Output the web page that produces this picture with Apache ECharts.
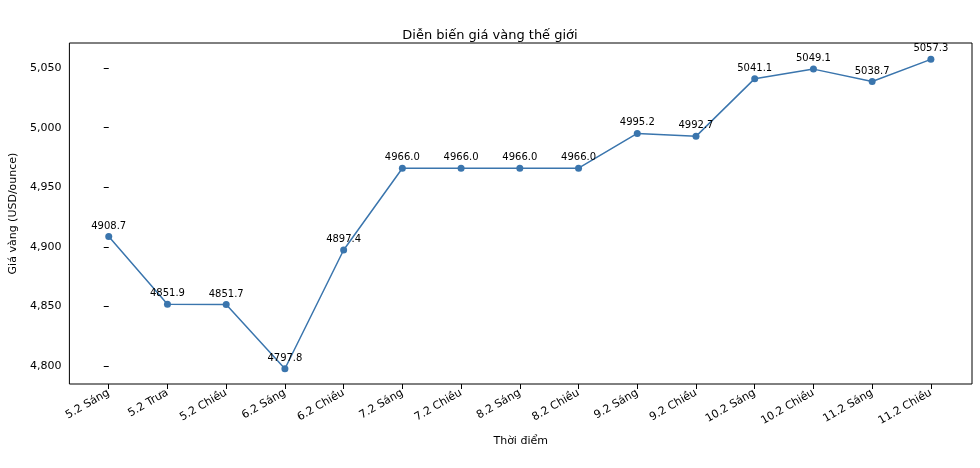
<!DOCTYPE html>
<html><head><meta charset="utf-8">
<script src="https://cdn.jsdelivr.net/npm/echarts@6/dist/echarts.min.js"></script>
<style>body{margin:0;background:#fff}#c{width:980px;height:468px}</style>
</head><body><div id="c"></div>
<script>
var times = ['5.2 Sáng','5.2 Trưa','5.2 Chiều','6.2 Sáng','6.2 Chiều','7.2 Sáng','7.2 Chiều','8.2 Sáng','8.2 Chiều','9.2 Sáng','9.2 Chiều','10.2 Sáng','10.2 Chiều','11.2 Sáng','11.2 Chiều'];
var prices = [4908.7,4851.9,4851.7,4797.8,4897.4,4966.0,4966.0,4966.0,4966.0,4995.2,4992.7,5041.1,5049.1,5038.7,5057.3];
var yTicks = [4800,4850,4900,4950,5000,5050];

var chart = echarts.init(document.getElementById('c'));
var font = 'DejaVu Sans';
chart.setOption({
    animation: false,
    textStyle: {fontFamily: font},
    title: {text: 'Diễn biến giá vàng thế giới', left: 'center', top: 24,
        textStyle: {fontSize: 13, fontWeight: 'normal', color: '#000', fontFamily: font}},
    grid: {left: 55, right: 8, top: 43, bottom: 84, show: true, borderColor: '#000', borderWidth: 1},
    xAxis: {
        type: 'value', min: -0.67, max: 14.7,
        name: 'Thời điểm', nameLocation: 'middle', nameGap: 52,
        nameTextStyle: {color: '#000', fontSize: 11},
        axisLine: {show: false}, splitLine: {show: false},
        axisTick: {customValues: times.map(function (t, i) { return i; }), lineStyle: {color: '#000'}},
        axisLabel: {customValues: times.map(function (t, i) { return i; }),
            formatter: function (v) { return times[Math.round(v)]; },
            rotate: 30, color: '#000', fontSize: 11}
    },
    yAxis: {
        type: 'value', min: 4785, max: 5071,
        name: 'Giá vàng (USD/ounce)', nameLocation: 'middle', nameGap: 43,
        nameTextStyle: {color: '#000', fontSize: 11},
        axisLine: {show: false}, splitLine: {show: false},
        axisTick: {customValues: yTicks, lineStyle: {color: '#000'}},
        axisLabel: {customValues: yTicks, color: '#000', fontSize: 11}
    },
    series: [{
        type: 'line',
        data: prices.map(function (p, i) { return [i, p]; }),
        symbol: 'circle', symbolSize: 7,
        itemStyle: {color: '#3a75ad'},
        lineStyle: {color: '#3a75ad', width: 1.5},
        label: {show: true, position: 'top', distance: 2, color: '#000', fontSize: 10,
            formatter: function (p) { return p.value[1].toFixed(1); }}
    }]
});
</script></body></html>
